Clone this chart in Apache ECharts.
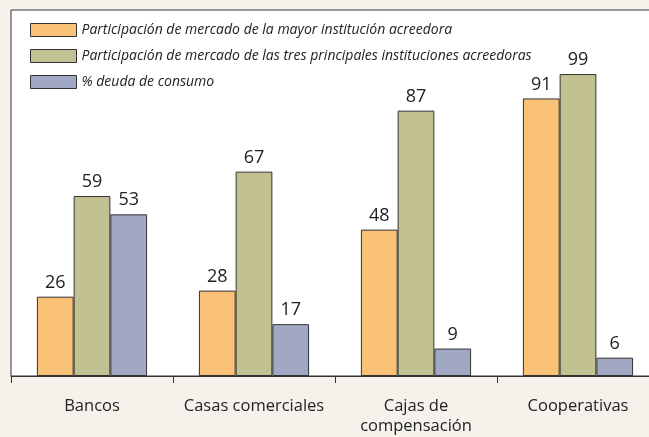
<!DOCTYPE html>
<html>
<head>
<meta charset="utf-8">
<script src="https://cdn.jsdelivr.net/npm/echarts@6/dist/echarts.min.js"></script>
<style>
  html, body { margin: 0; padding: 0; background: #f5f2eb; overflow: hidden; }
  #chart { width: 659px; height: 437px; }
</style>
</head>
<body>
<div id="chart"></div>
<script>
var categories = ['Bancos', 'Casas comerciales', 'Cajas de\ncompensación', 'Cooperativas'];
var seriesNames = [
  'Participación de mercado de la mayor institución acreedora',
  'Participación de mercado de las tres principales instituciones acreedoras',
  '% deuda de consumo'
];
var mayor = [26, 28, 48, 91];
var tresPrincipales = [59, 67, 87, 99];
var deudaConsumo = [53, 17, 9, 6];

var colors = ['#f9c276', '#c2c191', '#a0a8c3'];
var font = '"Open Sans", "Noto Sans", sans-serif';

var chart = echarts.init(document.getElementById('chart'));

function makeSeries(name, data, color) {
  return {
    name: name,
    type: 'bar',
    data: data,
    barGap: '0%',
    barCategoryGap: '32%',
    itemStyle: { color: color, borderColor: '#333', borderWidth: 1 },
    label: {
      show: true,
      position: 'top',
      distance: 5,
      color: '#222',
      fontSize: 18,
      fontFamily: font
    }
  };
}

var option = {
  backgroundColor: '#f5f2eb',
  animation: false,
  legend: {
    orient: 'vertical',
    left: 25,
    top: 18,
    itemWidth: 46,
    itemHeight: 13,
    itemGap: 12,
    data: seriesNames.map(function (n, i) {
      return { name: n, icon: 'rect', itemStyle: { color: colors[i], borderColor: '#333', borderWidth: 1 } };
    }),
    textStyle: { fontSize: 14, fontStyle: 'italic', color: '#222', fontFamily: font }
  },
  grid: {
    show: true,
    left: 11,
    right: 0,
    top: 10,
    bottom: 61,
    backgroundColor: '#ffffff',
    borderColor: '#333',
    borderWidth: 1
  },
  xAxis: {
    type: 'category',
    data: categories,
    axisLine: { lineStyle: { color: '#333', width: 1 } },
    axisTick: { show: true, interval: 0, length: 7, lineStyle: { color: '#333' } },
    axisLabel: { interval: 0, color: '#222', fontSize: 16.5, fontFamily: font, margin: 20, lineHeight: 20 }
  },
  yAxis: {
    type: 'value',
    min: 0,
    max: 120,
    show: false,
    splitLine: { show: false }
  },
  series: [
    makeSeries(seriesNames[0], mayor, colors[0]),
    makeSeries(seriesNames[1], tresPrincipales, colors[1]),
    makeSeries(seriesNames[2], deudaConsumo, colors[2])
  ]
};

chart.setOption(option);
</script>
</body>
</html>
